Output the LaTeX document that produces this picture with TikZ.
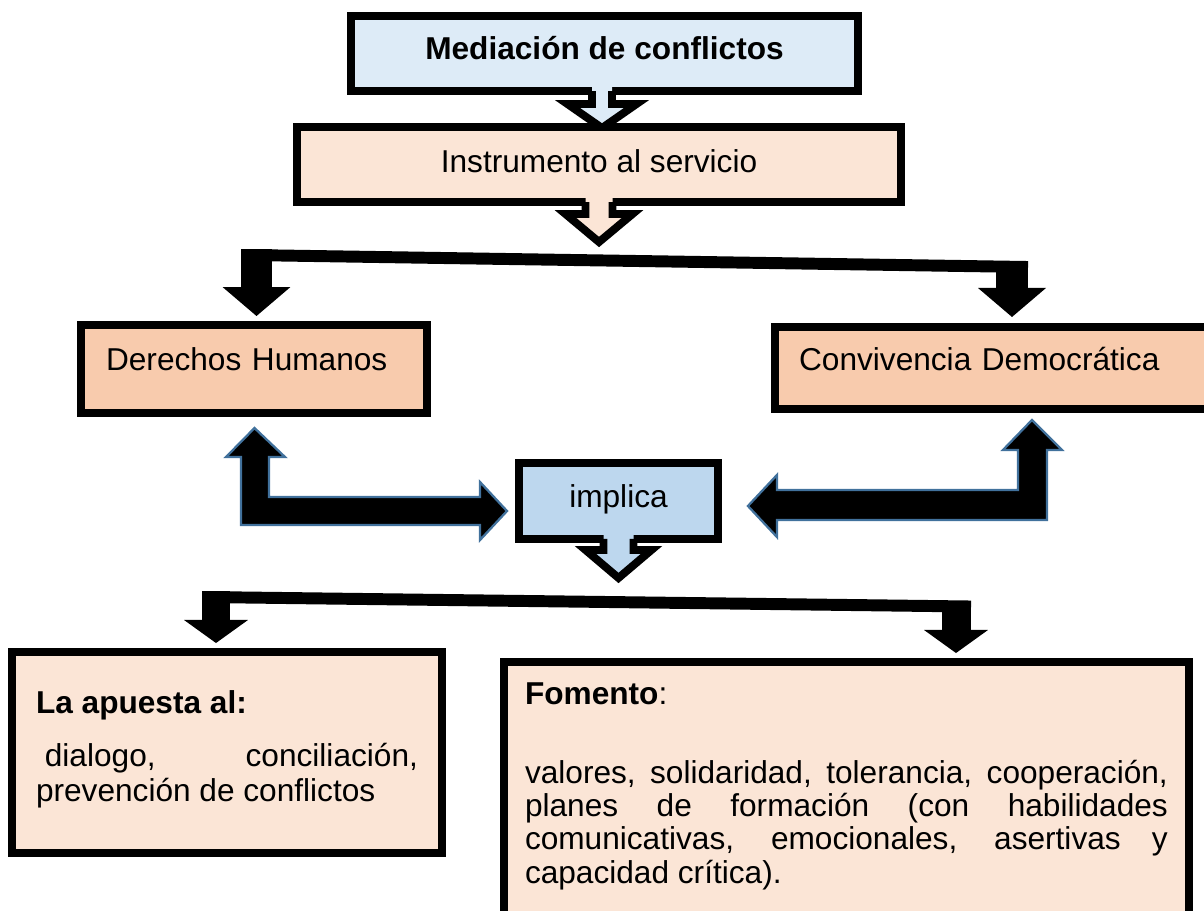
\documentclass[tikz,border=0pt]{standalone}
\usepackage{fontspec}
\setmainfont{Liberation Sans}
\usetikzlibrary{arrows.meta,calc}

\definecolor{medblue}{HTML}{DDEBF7}
\definecolor{peach}{HTML}{FBE5D6}
\definecolor{salmon}{HTML}{F8CBAD}
\definecolor{impblue}{HTML}{BDD7EE}
\definecolor{edgeblue}{HTML}{41719C}

\begin{document}
\begin{tikzpicture}[x=0.02cm, y=-0.02cm, font=\fontsize{18}{19}\selectfont,
    box/.style={draw, line width=4.5pt, outer sep=0pt, inner sep=0pt},
    blockline/.style={draw, line width=4.5pt, line join=miter},
    bar/.style={line width=6.8pt},
    bigdown/.style={line width=18.2pt, -{Triangle[width=38.7pt,length=16.5pt,line width=0pt]}},
    smalldown/.style={line width=16.5pt, -{Triangle[width=36.4pt,length=13.1pt,line width=0pt]}},
    twoway/.style={fill=black, draw=edgeblue, line width=1.3pt, line join=miter}]
    \useasboundingbox (0,0) rectangle (1204,910);
    \clip (0,0) rectangle (1204,910);

    \node [box, fill=medblue, minimum width=288.5pt, minimum height=42.7pt, text height=12.3pt, text depth=6pt] (med) at (604.5,53.5) {\textbf{Mediación de conflictos}};
    \coordinate (ar1) at ($(med.south)+(-2.5,0)$);
    \fill [medblue] (ar1) ++(-10,-6) -- ++(0,19) -- ++(-24.5,0) -- ++(34.5,24) -- ++(34.5,-24) -- ++(-24.5,0) -- ++(0,-19) -- cycle;
    \draw [blockline] (ar1) ++(-10,0) -- ++(0,13) -- ++(-24.5,0) -- ++(34.5,24) -- ++(34.5,-24) -- ++(-24.5,0) -- ++(0,-13);

    \node [box, fill=peach, minimum width=343.7pt, minimum height=42.7pt, text height=15.5pt, text depth=6pt] (instr) at (599,164.5) {Instrumento al servicio};
    \fill [peach] (instr.south) ++(-13.5,-6) -- ++(0,18) -- ++(-20,0) -- ++(33.5,28) -- ++(33.5,-28) -- ++(-20,0) -- ++(0,-18) -- cycle;
    \draw [blockline] (instr.south) ++(-13.5,0) -- ++(0,12) -- ++(-20,0) -- ++(33.5,28) -- ++(33.5,-28) -- ++(-20,0) -- ++(0,-12);

    \node [box, fill=salmon, minimum width=196.9pt, minimum height=50.1pt, inner xsep=14.2pt, text width=168.4pt, align=left, text height=8.2pt, text depth=6pt] (dh) at (254,369) {Derechos Humanos};
    \node [box, fill=salmon, minimum width=250.4pt, minimum height=46.7pt, inner xsep=13.7pt, text width=223pt, align=left, text height=9.4pt, text depth=6pt] (cd) at (995,368) {Convivencia Democrática};

    \coordinate (tl) at (256.5,255);
    \coordinate (tr) at (1012,267);
    \draw [bar] ($(tl)+(-9,0)$) -- ($(tr)+(16,0)$);
    \draw [bigdown] ($(tl)+(0,-6)$) -- ($(dh.north -| tl)+(0,-9)$);
    \draw [bigdown] ($(tr)+(0,-5)$) -- ($(cd.north -| tr)+(0,-10)$);

    \node [box, fill=impblue, minimum width=113.2pt, minimum height=43.2pt, text height=13.8pt, text depth=6pt] (imp) at (618.5,501) {implica};
    \draw [twoway] ($(dh.south)+(0.5,15)$) -- ++(30.5,29) -- ++(-16,0) -- ++(0,40) -- ++(211,0) -- ++(0,-15) -- ++(27,29) -- ++(-27,29) -- ++(0,-15) -- ++(-239,0) -- ++(0,-68) -- ++(-15,0) -- cycle;
    \draw [twoway] ($(imp.east)+(30,5)$) -- ++(29,-31) -- ++(0,15) -- ++(241,0) -- ++(0,-40) -- ++(-15,0) -- ++(29,-30) -- ++(30,30) -- ++(-15,0) -- ++(0,70) -- ++(-270,0) -- ++(0,17) -- cycle;
    \fill [impblue] (imp.south) ++(-15,-6) -- ++(0,17) -- ++(-18,0) -- ++(33,28) -- ++(33,-28) -- ++(-18,0) -- ++(0,-17) -- cycle;
    \draw [blockline] (imp.south) ++(-15,0) -- ++(0,11) -- ++(-18,0) -- ++(33,28) -- ++(33,-28) -- ++(-18,0) -- ++(0,-11);

    \node [box, fill=peach, minimum width=244.7pt, minimum height=114.4pt, inner xsep=13.7pt, text width=217.4pt, align=justify, font=\fontsize{18}{19.9}\selectfont] (ap) at (227,752.5) {\textbf{La apuesta al:}\par\vspace{10.3pt}\hspace*{0.28em}dialogo, conciliación,\linebreak prevención de conflictos\par\vspace{3.4pt}\nointerlineskip\null};
    \node [box, fill=peach, anchor=north west, minimum width=389.8pt, inner xsep=11.9pt, inner ysep=11.6pt, text width=365.9pt, align=justify] (fo) at (504,662) {\textbf{Fomento}:\par\vspace{26pt}valores, solidaridad, tolerancia, cooperación, planes de formación (con habilidades\linebreak comunicativas, emocionales, asertivas y\linebreak capacidad crítica).\par\rule{0pt}{60pt}};

    \coordinate (bl) at (216,597);
    \coordinate (br) at (956,606.5);
    \draw [bar] ($(bl)+(-12,0)$) -- ($(br)+(15,0)$);
    \draw [smalldown, line width=15.9pt] ($(bl)+(0,-6)$) -- ($(ap.north -| bl)+(0,-9)$);
    \draw [smalldown] ($(br)+(0,-5)$) -- ($(fo.north -| br)+(0,-9)$);
\end{tikzpicture}
\end{document}
